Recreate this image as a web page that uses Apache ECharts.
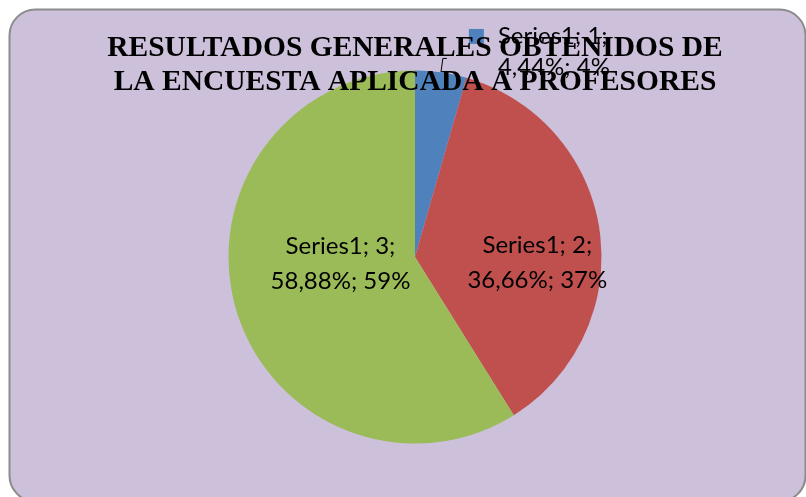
<!DOCTYPE html>
<html>
<head>
<meta charset="utf-8">
<script src="https://cdn.jsdelivr.net/npm/echarts@6/dist/echarts.min.js"></script>
<style>
    html, body { margin: 0; padding: 0; background: #ffffff; }
    #main { width: 806px; height: 497px; }
</style>
</head>
<body>
<div id="main"></div>
<script>
    var titleText = 'RESULTADOS GENERALES OBTENIDOS DE\nLA ENCUESTA APLICADA A PROFESORES';
    var seriesName = 'Series1';
    var categories = ['1', '2', '3'];
    var values = [4.44, 36.66, 58.88];
    var colors = ['#4F81BD', '#C0504D', '#9BBB59'];

    var data = [];
    for (var i = 0; i < categories.length; i++) {
        data.push({ name: categories[i], value: values[i] });
    }

    // 4.44 -> "4,44"
    var fmtNum = function (v) {
        return v.toFixed(2).replace('.', ',');
    };

    var myChart = echarts.init(document.getElementById('main'));
    var option = {
        backgroundColor: '#ffffff',
        animation: false,
        color: colors,
        graphic: [{
            type: 'rect',
            z: -10,
            shape: { x: 9.5, y: 9.5, width: 796, height: 492, r: 26 },
            style: { fill: '#CCC0DA', stroke: '#8c8c8c', lineWidth: 2 }
        }],
        title: {
            text: titleText,
            left: 415,
            top: 26,
            textAlign: 'center',
            padding: [5, 0, 5, 0],
            textStyle: {
                fontFamily: 'Liberation Serif',
                fontWeight: 'bold',
                fontSize: 29.5,
                lineHeight: 34,
                color: '#000000'
            }
        },
        series: [{
            name: seriesName,
            type: 'pie',
            center: [415, 257],
            radius: 186.5,
            startAngle: 90,
            clockwise: true,
            avoidLabelOverlap: false,
            itemStyle: { borderWidth: 0 },
            label: {
                position: 'inside',
                color: '#000000',
                fontFamily: 'Lato',
                fontSize: 24,
                formatter: function (p) {
                    var line1 = p.seriesName + '; ' + p.name + ';';
                    var line2 = fmtNum(p.value) + '%; ' + Math.round(p.value) + '%';
                    if (p.dataIndex === 0) {
                        return '{sq|}{g|}{o|' + line1 + '}\n{sp|}{o|' + line2 + '}';
                    }
                    return '{t|' + line1 + '}\n{t|' + line2 + '}';
                },
                rich: {
                    t: { fontFamily: 'Lato', fontSize: 24, lineHeight: 35, color: '#000000', align: 'center' },
                    o: { fontFamily: 'Lato', fontSize: 24, lineHeight: 31, color: '#000000' },
                    sq: { width: 15, height: 15, backgroundColor: '#4F81BD' },
                    g: { width: 14 },
                    sp: { width: 29 }
                }
            },
            labelLine: { show: false },
            labelLayout: function (params) {
                if (params.dataIndex === 1) {
                    return { dx: 27, dy: 19 };
                }
                if (params.dataIndex === 2) {
                    return { dx: 18, dy: -20 };
                }
            },
            data: data.map(function (d, idx) {
                if (idx !== 0) {
                    return d;
                }
                return {
                    name: d.name,
                    value: d.value,
                    label: {
                        position: 'outside',
                        distanceToLabelLine: 22,
                        padding: [0, 0, 13, 0]
                    },
                    labelLine: {
                        show: true,
                        length: 14,
                        length2: 4,
                        lineStyle: { color: '#000000', width: 1 }
                    }
                };
            })
        }]
    };
    myChart.setOption(option);
</script>
</body>
</html>
